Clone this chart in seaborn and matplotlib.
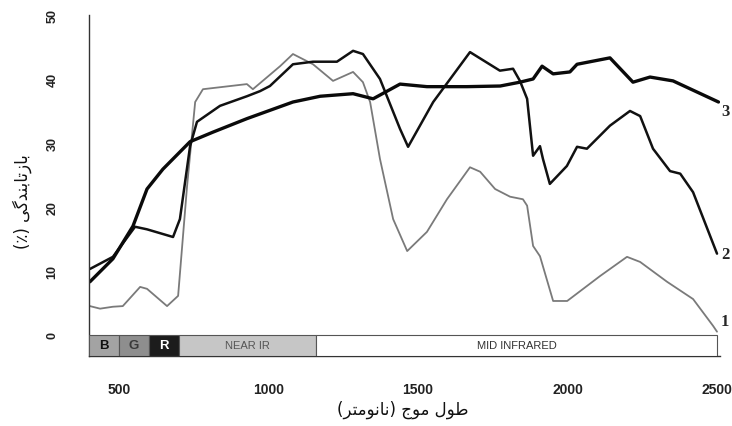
import matplotlib
matplotlib.use("Agg")
import matplotlib.pyplot as plt
import seaborn as sns
import pandas as pd
from matplotlib.patches import Rectangle

# ---------------- data ----------------
wl_1 = [403, 437, 480, 513, 571, 594, 661, 698, 728, 755, 781, 928, 948, 1039, 1082,
        1149, 1216, 1283, 1316, 1340, 1373, 1417, 1464, 1530, 1597, 1674, 1708, 1758,
        1808, 1851, 1865, 1885, 1908, 1952, 1999, 2109, 2199, 2243, 2333, 2420, 2487, 2500]
refl_1 = [4.5, 4.1, 4.4, 4.5, 7.5, 7.2, 4.5, 6.1, 23.3, 36.4, 38.4, 39.2, 38.4, 42.0, 43.9,
          42.3, 39.7, 41.1, 39.5, 36.4, 27.5, 18.1, 13.1, 16.1, 21.2, 26.2, 25.5, 22.8,
          21.6, 21.2, 20.2, 13.9, 12.3, 5.3, 5.3, 9.2, 12.2, 11.4, 8.3, 5.6, 1.4, 0.5]

wl_2 = [403, 480, 554, 594, 681, 704, 738, 761, 838, 928, 972, 1005, 1082, 1149, 1229,
        1283, 1316, 1373, 1440, 1467, 1551, 1674, 1774, 1818, 1841, 1865, 1885, 1908,
        1918, 1941, 1998, 2032, 2065, 2142, 2209, 2243, 2286, 2343, 2377, 2420, 2500]
refl_2 = [10.3, 12.2, 16.9, 16.5, 15.3, 18.1, 29.5, 33.3, 35.8, 37.3, 38.1, 38.9, 42.3, 42.7, 42.7,
          44.4, 43.9, 40.0, 32.2, 29.4, 36.4, 44.2, 41.3, 41.6, 39.7, 36.9, 28.0, 29.5,
          27.5, 23.6, 26.4, 29.4, 29.1, 32.7, 35.0, 34.2, 29.1, 25.6, 25.2, 22.3, 12.7]

wl_3 = [403, 480, 547, 594, 647, 738, 815, 928, 1082, 1173, 1283, 1350, 1440, 1530, 1664,
        1775, 1841, 1885, 1915, 1952, 2008, 2032, 2142, 2219, 2276, 2353, 2505]
refl_3 = [8.3, 11.9, 17.0, 22.8, 25.9, 30.2, 31.7, 33.8, 36.4, 37.3, 37.7, 36.9, 39.2, 38.8, 38.8,
          38.9, 39.5, 40.0, 42.0, 40.8, 41.1, 42.3, 43.3, 39.5, 40.3, 39.7, 36.4]

curve_labels = ["1", "2", "3"]
label_y = [2.2, 12.7, 35.0]

band_names = ["B", "G", "R", "NEAR IR", "MID INFRARED"]
band_edges = [400, 500, 600, 700, 1160, 2500]
band_colors = ["#a3a3a3", "#8e8e8e", "#1c1c1c", "#c6c6c6", "#ffffff"]
band_text_colors = ["#111111", "#3a3a3a", "#ffffff", "#555555", "#333333"]

x_ticks = [500, 1000, 1500, 2000, 2500]
y_ticks = [0, 10, 20, 30, 40, 50]

x_label = "طول موج (نانومتر)"
y_label = "بازتابندگی (٪)"

# ---------------- simple Arabic/Persian shaping for matplotlib ----------------
FORMS = {  # isolated, final, initial, medial
    "ا": ("\uFE8D", "\uFE8E", None, None),
    "ب": ("\uFE8F", "\uFE90", "\uFE91", "\uFE92"),
    "ت": ("\uFE95", "\uFE96", "\uFE97", "\uFE98"),
    "ج": ("\uFE9D", "\uFE9E", "\uFE9F", "\uFEA0"),
    "د": ("\uFEA9", "\uFEAA", None, None),
    "ر": ("\uFEAD", "\uFEAE", None, None),
    "ز": ("\uFEAF", "\uFEB0", None, None),
    "ط": ("\uFEC1", "\uFEC2", "\uFEC3", "\uFEC4"),
    "ل": ("\uFEDD", "\uFEDE", "\uFEDF", "\uFEE0"),
    "م": ("\uFEE1", "\uFEE2", "\uFEE3", "\uFEE4"),
    "ن": ("\uFEE5", "\uFEE6", "\uFEE7", "\uFEE8"),
    "و": ("\uFEED", "\uFEEE", None, None),
    "گ": ("\uFB92", "\uFB93", "\uFB94", "\uFB95"),
    "ی": ("\uFBFC", "\uFBFD", "\uFBFE", "\uFBFF"),
}


def dual(c):
    return c in FORMS and FORMS[c][2] is not None


def shape_rtl(text):
    out = []
    for i, c in enumerate(text):
        if c not in FORMS:
            out.append(c)
            continue
        prev = text[i - 1] if i > 0 else ""
        nxt = text[i + 1] if i + 1 < len(text) else ""
        jp = dual(prev)
        jn = dual(c) and nxt in FORMS
        iso, fin, ini, med = FORMS[c]
        if jp and jn:
            out.append(med)
        elif jp:
            out.append(fin)
        elif jn:
            out.append(ini)
        else:
            out.append(iso)
    vis = "".join(reversed(out))
    swap = {"(": ")", ")": "("}
    return "".join(swap.get(ch, ch) for ch in vis)


# ---------------- figure ----------------
sns.set_style("white")
plt.rcParams["font.family"] = ["Liberation Sans", "DejaVu Sans"]

fig = plt.figure(figsize=(7.32, 4.27), dpi=100)
ax = fig.add_axes([89 / 732, 70 / 427, (720 - 89) / 732, 341 / 427])

df = pd.concat([
    pd.DataFrame({"wl": wl_1, "r": refl_1, "c": "1"}),
    pd.DataFrame({"wl": wl_2, "r": refl_2, "c": "2"}),
    pd.DataFrame({"wl": wl_3, "r": refl_3, "c": "3"}),
])
styles = {"1": ("#7a7a7a", 1.3), "2": ("#111111", 1.8), "3": ("#0a0a0a", 2.4)}
for key, (col, lw) in styles.items():
    sub = df[df["c"] == key]
    sns.lineplot(data=sub, x="wl", y="r", ax=ax, color=col, linewidth=lw,
                 sort=False, estimator=None, legend=False,
                 solid_joinstyle="round", solid_capstyle="round")

# spectral band bar below zero
bar_bottom, bar_top = -3.3, 0.0
for i, name in enumerate(band_names):
    x0, x1 = band_edges[i], band_edges[i + 1]
    ax.add_patch(Rectangle((x0, bar_bottom), x1 - x0, bar_top - bar_bottom,
                           facecolor=band_colors[i], edgecolor="#555555",
                           linewidth=0.8, zorder=3))
    big = len(name) == 1
    ax.text((x0 + x1) / 2, (bar_bottom + bar_top) / 2, name,
            ha="center", va="center", color=band_text_colors[i],
            fontsize=9.5 if big else 8, fontweight="bold" if big else "normal",
            fontstretch="condensed", zorder=4)

# curve numbers at the right edge
for lab, yy in zip(curve_labels, label_y):
    ax.text(2513, yy, lab, ha="left", va="center", fontsize=12,
            fontweight="bold", family=["Liberation Serif", "DejaVu Serif"],
            clip_on=False)

ax.set_xlim(400, 2510)
ax.set_ylim(bar_bottom, 50)
ax.set_xticks(x_ticks)
ax.set_yticks(y_ticks)
ax.set_xticklabels([str(t) for t in x_ticks], fontsize=10, fontweight="bold",
                   color="#222222")
ax.set_yticklabels([str(t) for t in y_ticks], fontsize=9, fontweight="bold",
                   rotation=90, va="center", color="#222222")
ax.tick_params(axis="x", direction="out", length=5, width=1, pad=14, color="#333333")
ax.tick_params(axis="y", direction="out", length=4, width=1, pad=18, color="#333333")
ax.set_xlabel("")
ax.set_ylabel("")
for s in ["top", "right"]:
    ax.spines[s].set_visible(False)
for s in ["left", "bottom"]:
    ax.spines[s].set_color("#333333")
    ax.spines[s].set_linewidth(1.0)

fig.text(403 / 732, 1 - 410 / 427, shape_rtl(x_label), ha="center", va="center",
         fontsize=12, family=["DejaVu Sans"], color="#111111")
fig.text(22 / 732, 1 - 202 / 427, shape_rtl(y_label), ha="center", va="center",
         rotation=90, fontsize=12, family=["DejaVu Sans"], color="#111111")

fig.savefig("out.png", dpi=100, facecolor="white")
